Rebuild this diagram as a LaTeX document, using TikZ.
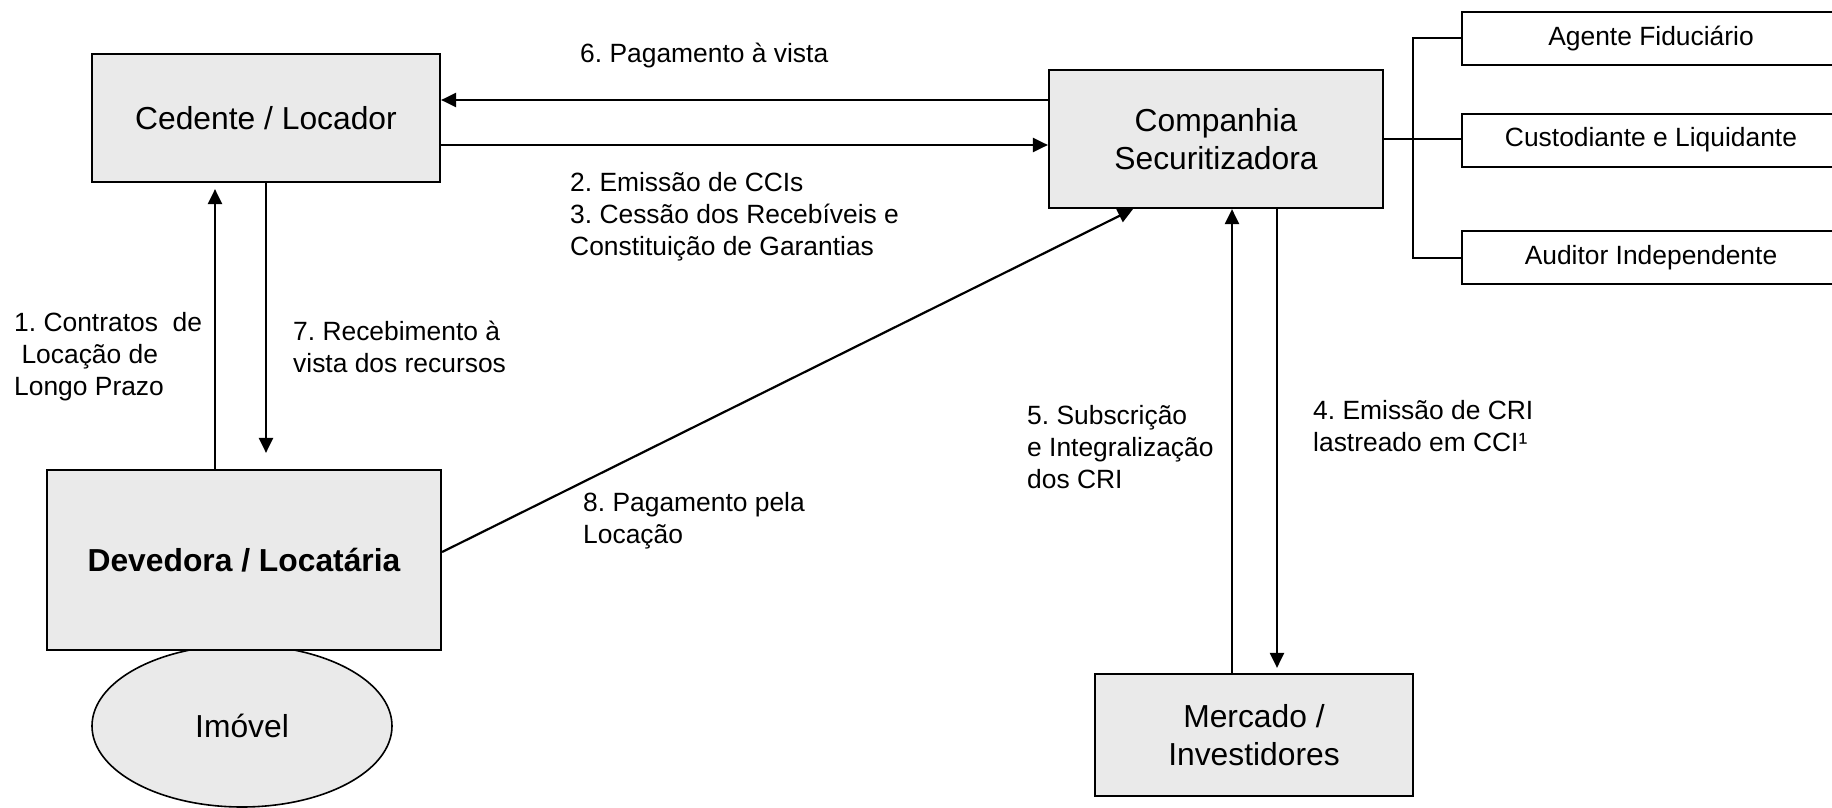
\documentclass[tikz,border=0pt]{standalone}
\usepackage{fontspec}
\setmainfont{Liberation Sans}
\usetikzlibrary{arrows.meta, shapes.geometric}
\definecolor{boxgray}{HTML}{EAEAEA}
\frenchspacing

\begin{document}
\begin{tikzpicture}[x=1pt, y=-1pt,
    party/.style={draw, line width=2.2pt, fill=boxgray, inner sep=0pt, align=center, font=\fontsize{31.8}{38}\selectfont},
    service/.style={draw, line width=2pt, fill=white, minimum width=378pt, minimum height=53pt, inner sep=0pt, font=\fontsize{26.4}{32}\selectfont},
    flow/.style={line width=2.2pt, -{Triangle[length=15pt, width=14pt]}},
    link/.style={line width=2pt},
    note/.style={anchor=north west, inner sep=0pt, align=left, font=\fontsize{26.4}{32}\selectfont, execute at begin node=\strut}
]

\useasboundingbox (0, 0) rectangle (1832, 808);

% property
\node[ellipse, draw, line width=1.6pt, fill=boxgray, minimum width=300pt, minimum height=162pt, inner sep=0pt, font=\fontsize{31.8}{38}\selectfont] (imovel) at (242, 726) {Imóvel};

% parties
\node[party, minimum width=348pt, minimum height=128pt] (cedente) at (266, 118) {Cedente / Locador};
\node[party, minimum width=334pt, minimum height=138pt] (companhia) at (1216, 139) {Companhia\\Securitizadora};
\node[party, minimum width=394pt, minimum height=180pt, font=\fontsize{31.8}{38}\selectfont\bfseries] (devedora) at (244, 560) {Devedora / Locatária};
\node[party, minimum width=318pt, minimum height=122pt] (mercado) at (1254, 735) {Mercado /\\Investidores};

% service providers
\foreach \m/\y/\role in {1/38.5/Agente Fiduciário, 2/140/Custodiante e Liquidante, 3/257.5/Auditor Independente} {
    \node[service] (service-\m) at (1651, \y) {\role};
}

% connect the securitizadora with the service providers
\draw[link] (companhia.east) -- (companhia.east -| service-2.west);
\draw[link] (service-1.west) -- ++(-48, 0) |- (service-3.west);

% flows between the parties
\draw[flow] ([yshift=39pt]companhia.west) -- ([yshift=18pt]cedente.east);
\draw[flow] ([yshift=-27pt]cedente.east) -- ([yshift=-6pt]companhia.west);
\draw[flow, shorten >=6pt] ([xshift=-29pt]devedora.north) -- ([xshift=-51pt]cedente.south);
\draw[flow, shorten >=16pt] (cedente.south) -- ([xshift=22pt]devedora.north);
\draw[flow] ([yshift=8pt]devedora.east) -- ([xshift=-83pt]companhia.south);
\draw[flow] ([xshift=-22pt]mercado.north) -- ([xshift=16pt]companhia.south);
\draw[flow, shorten >=5pt] ([xshift=61pt]companhia.south) -- ([xshift=23pt]mercado.north);

% labels
\node[note] (label-6) at (580, 39.6) {6. Pagamento à vista};
\node[note] (label-2) at (570, 172.6) {2. Emissão de CCIs\\3. Cessão dos Recebíveis e\\Constituição de Garantias};
\node[note] (label-1) at (14, 312.6) {1. Contratos\ \ de\\\ Locação de\\Longo Prazo};
\node[note] (label-7) at (293, 320.6) {7. Recebimento à\\vista dos recursos};
\node[note] (label-8) at (583, 492.6) {8. Pagamento pela\\Locação};
\node[note] (label-5) at (1027, 405.6) {5. Subscrição\\e Integralização\\dos CRI};
\node[note] (label-4) at (1313, 400.6) {4. Emissão de CRI\\lastreado em CCI¹};

\end{tikzpicture}
\end{document}
